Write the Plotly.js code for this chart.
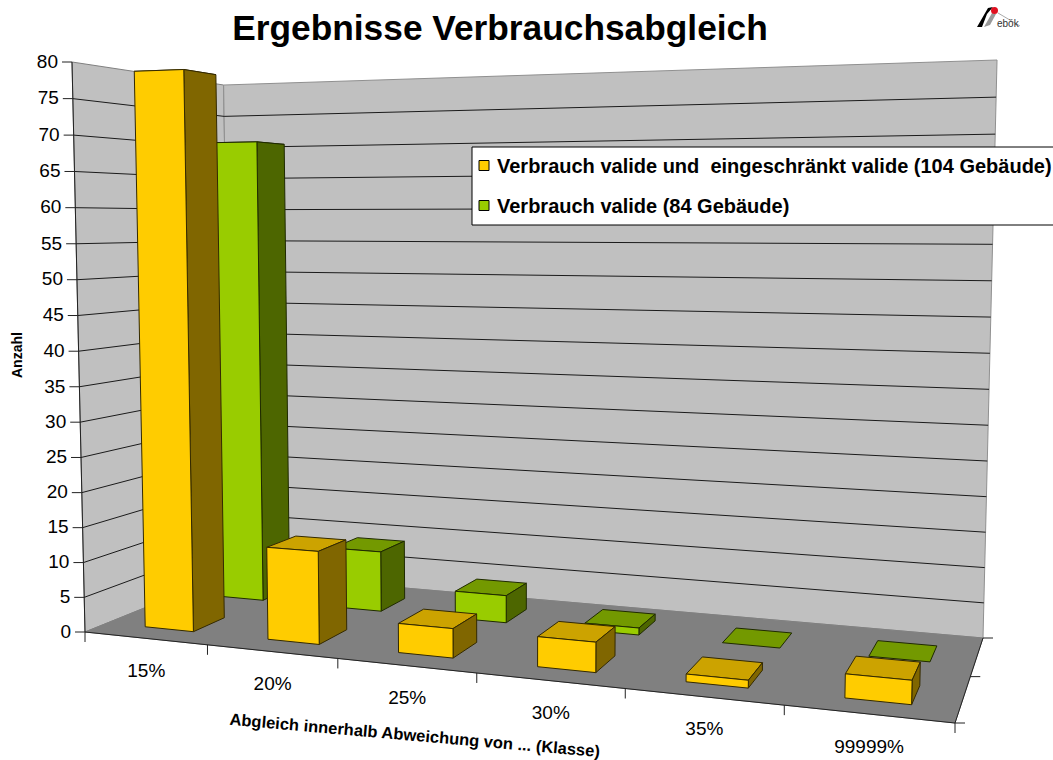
<!DOCTYPE html>
<html><head><meta charset="utf-8">
<script src="https://cdn.plot.ly/plotly-3.0.1.min.js"></script>
<style>html,body{margin:0;padding:0;background:#fff}#c{width:1053px;height:760px}</style>
</head><body><div id="c"></div>
<script>
const categories = ["15%","20%","25%","30%","35%","99999%"];
const seriesYellow = [79,13,4,4,1,3];
const seriesGreen = [70,9,4,1,0,0];
const nameYellow = "Verbrauch valide und  eingeschränkt valide (104 Gebäude)";
const nameGreen = "Verbrauch valide (84 Gebäude)";
const valueTicks = [0,5,10,15,20,25,30,35,40,45,50,55,60,65,70,75,80];
const yMax = 80;

// view: floor corners as seen in the picture, plus the vanishing point of the verticals
const floorQuad = [[85,632],[955,723],[983,638],[231,573]];   // (u,w) = 00,10,11,01
const VP = [520,19700];
const bow = 0.03;
function quadMap(q){
  const [[x0,y0],[x1,y1],[x2,y2],[x3,y3]]=q;
  const dx1=x1-x2,dx2=x3-x2,sx=x0-x1+x2-x3,dy1=y1-y2,dy2=y3-y2,sy=y0-y1+y2-y3;
  const det=dx1*dy2-dx2*dy1;
  const g=(sx*dy2-dx2*sy)/det,h=(dx1*sy-sx*dy1)/det;
  const a=x1-x0+g*x1,b=x3-x0+h*x3,d=y1-y0+g*y1,e=y3-y0+h*y3;
  return (u,w)=>{const k=g*u+h*w+1;return [(a*u+b*w+x0)/k,(d*u+e*w+y0)/k];};
}
const Fm=quadMap(floorQuad);
function P(u,v,w){const f=Fm(u,w);
  const s=v/(1+bow*(1-v));
  const hgt=s*(570-0.00037*(f[0]-85)+1.389*(f[1]-632));
  return [f[0]+(f[0]-VP[0])/(VP[1]-f[1])*hgt,f[1]-hgt];}
function poly(pts,fill,line,width){
  const c=pts.concat([pts[0]]);
  return {x:c.map(p=>p[0]),y:c.map(p=>p[1]),mode:'lines',fill:'toself',fillcolor:fill,
    line:{color:line,width:width===undefined?1:width},showlegend:false,hoverinfo:'skip'};
}
const traces=[];
traces.push(poly([P(0,0,0),P(0,1,0),P(0,1,1),P(0,0,1)],'#C0C0C0','#808080'));
traces.push(poly([P(0,0,1),P(0,1,1),P(1,1,1),P(1,0,1)],'#C0C0C0','#909090'));
traces.push(poly([P(0,0,0),P(1,0,0),P(1,0,1),P(0,0,1)],'#808080','#808080'));
// gridlines
const gx=[],gy=[];
valueTicks.filter(t=>t>0&&t<yMax).forEach(t=>{const v=t/yMax;
  [P(0,v,0),P(0,v,1),P(1,v,1)].forEach(p=>{gx.push(p[0]);gy.push(p[1]);});gx.push(null);gy.push(null);});
traces.push({x:gx,y:gy,mode:'lines',line:{color:'#1a1a1a',width:1},showlegend:false,hoverinfo:'skip'});
// axis lines and ticks
const ax=[],ay=[];
function seg(a,b){ax.push(a[0],b[0],null);ay.push(a[1],b[1],null);}
seg(P(0,0,0),P(1,0,0));seg(P(1,0,0),P(1,0,1));
seg(P(0,0,0),P(0,1,0));
for(let i=0;i<=categories.length;i++){const p=P(i/categories.length,0,0);seg(p,[p[0],p[1]+10]);}
[0,0.5,1].forEach(w=>{const p=P(1,0,w);seg(p,[p[0]+10,p[1]]);});
valueTicks.forEach(t=>{const p=P(0,t/yMax,0);seg(p,[p[0]-10,p[1]]);});
traces.push({x:ax,y:ay,mode:'lines',line:{color:'#222',width:1},showlegend:false,hoverinfo:'skip'});
// bars, back row first and right to left
const U0=0.32,U1=0.72;
function bars(vals,w0,w1,cf,cs,ct,edge){
  for(let i=vals.length-1;i>=0;i--){
    const n=vals.length,a=(i+U0)/n,b=(i+U1)/n,v=vals[i]/yMax;
    traces.push(poly([P(a,v,w0),P(b,v,w0),P(b,v,w1),P(a,v,w1)],ct,edge));
    if(v>0){
      traces.push(poly([P(b,0,w0),P(b,v,w0),P(b,v,w1),P(b,0,w1)],cs,edge));
      traces.push(poly([P(a,0,w0),P(a,v,w0),P(b,v,w0),P(b,0,w0)],cf,edge));
    }
  }
}
bars(seriesGreen,0.63,0.84,'#99CC00','#4D6600','#739900','#1f2a00');
bars(seriesYellow,0.135,0.345,'#FFCC00','#806600','#CCA300','#332900');
// tick labels
const yl=valueTicks.map(t=>P(0,t/yMax,0));
traces.push({x:yl.map(p=>p[0]-14),y:yl.map(p=>p[1]+1),text:valueTicks.map(String),mode:'text',
  textposition:'middle left',textfont:{family:'Liberation Sans',size:19,color:'#000'},showlegend:false,hoverinfo:'skip'});
const xl=categories.map((c,i)=>P((i+0.5)/categories.length,0,0));
traces.push({x:xl.map(p=>p[0]+1),y:xl.map(p=>p[1]+34),text:categories,mode:'text',
  textposition:'middle center',textfont:{family:'Liberation Sans',size:19,color:'#000'},showlegend:false,hoverinfo:'skip'});
// legend entries
traces.push({x:[null],y:[null],mode:'markers',name:nameYellow,legendgroup:'a',
  marker:{symbol:'square',size:10,color:'#FFCC00',line:{color:'#000',width:1}}});
traces.push({x:[null],y:[null],mode:'markers',name:nameGreen,legendgroup:'b',
  marker:{symbol:'square',size:10,color:'#99CC00',line:{color:'#000',width:1}}});

const layout={
  width:1053,height:760,margin:{l:0,r:0,t:0,b:0,autoexpand:false},paper_bgcolor:'#fff',plot_bgcolor:'#fff',
  font:{family:'Liberation Sans',color:'#000'},
  title:{text:'Ergebnisse Verbrauchsabgleich',x:500/1053,xanchor:'center',y:1-28/760,yanchor:'middle',
    font:{family:'Liberation Sans',size:35.3,weight:700,color:'#000'}},
  xaxis:{range:[0,1053],visible:false,fixedrange:true},
  yaxis:{range:[760,0],visible:false,fixedrange:true},
  showlegend:true,
  legend:{x:472/1053,xanchor:'left',y:1-146/760,yanchor:'top',bgcolor:'rgba(0,0,0,0)',borderwidth:0,
    indentation:-15,itemwidth:30,tracegroupgap:11,font:{family:'Liberation Sans',size:20,weight:700,color:'#000'}},
  shapes:[
    {type:'rect',xref:'paper',yref:'paper',x0:472/1053,x1:1060/1053,y0:1-147/760,y1:1-225/760,
      fillcolor:'#fff',line:{color:'#000',width:1},layer:'above'},
    {type:'path',xref:'x',yref:'y',path:'M977,27 L988,8 L993,7 L987,14 L982,27 Z',fillcolor:'#000',line:{width:0},layer:'above'},
    {type:'path',xref:'x',yref:'y',path:'M984,27 L992,13 L996,14 L990,25 Z',fillcolor:'#999',line:{width:0},layer:'above'},
    {type:'line',xref:'x',yref:'y',x0:998,y0:13,x1:1020,y1:26,line:{color:'#aaa',width:1},layer:'above'},
    {type:'circle',xref:'x',yref:'y',x0:991,x1:998,y0:7,y1:14,fillcolor:'#e01020',line:{width:0},layer:'above'}
  ],
  annotations:[
    {text:'Anzahl',x:17,y:355,xref:'x',yref:'y',showarrow:false,textangle:-90,font:{size:14,weight:700}},
    {text:'Abgleich innerhalb Abweichung von ... (Klasse)',x:415,y:735,xref:'x',yref:'y',showarrow:false,textangle:5,font:{size:16.5,weight:700}},
    {text:'ebök',x:1008,y:23,xref:'x',yref:'y',showarrow:false,font:{size:10,color:'#333'}}
  ]
};
Plotly.newPlot('c',traces,layout,{displayModeBar:false,staticPlot:true}).then(()=>{
  document.querySelectorAll('.legend .legendpoints').forEach(g=>g.setAttribute('transform','translate(7,0)'));
});
</script></body></html>
